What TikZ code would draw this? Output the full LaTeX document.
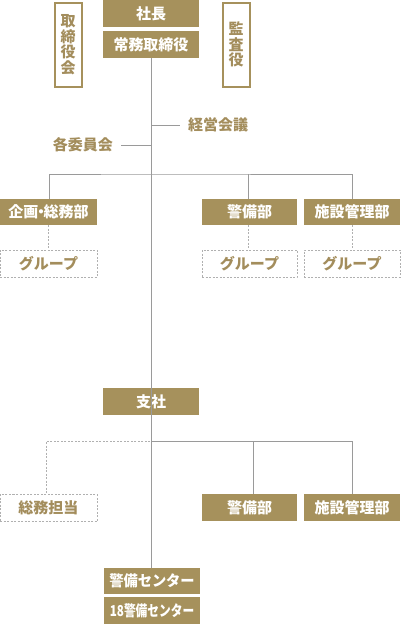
\documentclass[tikz,border=0pt]{standalone}
\usepackage{fontspec}
\setmainfont{Noto Sans CJK JP}
\usetikzlibrary{positioning}
\usepackage{graphicx}
\definecolor{gold}{HTML}{A6915C}
\definecolor{goldtext}{HTML}{A38D5C}
\definecolor{linegray}{HTML}{9A9A9A}
\definecolor{dashgray}{HTML}{B0B0B0}
\tikzset{
  txt/.style={font=\fontsize{15}{15.5}\selectfont\bfseries},
  solidbox/.style={txt, rectangle, fill=gold, text=white, inner sep=0pt, minimum width=96pt, minimum height=27pt},
  outlinebox/.style={txt, rectangle, draw=gold, line width=2pt, text=goldtext, inner sep=0pt, minimum width=27pt, minimum height=84pt, align=center},
  dashbox/.style={txt, rectangle, draw=dashgray, line width=0.9pt, dash pattern=on 2pt off 1.5pt, text=goldtext, inner sep=0pt, minimum width=97pt, minimum height=27pt},
  label/.style={txt, text=goldtext, inner sep=0pt},
  conn/.style={draw=linegray, line width=1pt},
  dconn/.style={draw=dashgray, line width=0.9pt, dash pattern=on 2pt off 1.5pt},
}
\begin{document}
\begin{tikzpicture}[x=1pt,y=-1pt]
\useasboundingbox (0,0) rectangle (402,625);
% top
\node[solidbox] (shacho) at (151,13.5) {社長};
\node[solidbox] (jomu) at (151,44.5) {常務取締役};
\node[outlinebox] (torishimari) at (68,44.5) {取\\締\\役\\会};
\node[outlinebox] (kansa) at (236,44.5) {監\\査\\役};
% meetings
\node[label, anchor=west] (keiei) at (188,125) {経営会議};
\node[label, anchor=east] (iin) at (113,145) {各委員会};
% departments
\node[solidbox, minimum width=97pt, minimum height=26pt] (kikaku) at (48.5,212) {企画\kern-5pt・\kern-5pt 総務部};
\node[solidbox, minimum width=95pt, minimum height=26pt] (keibi1) at (249.5,212) {警備部};
\node[solidbox, minimum height=26pt] (shisetsu1) at (352,212) {施設管理部};
\node[dashbox] (g1) at (48.5,263.5) {グループ};
\node[dashbox, minimum width=95pt] (g2) at (249.5,263.5) {グループ};
\node[dashbox, minimum width=96pt] (g3) at (352,263.5) {グループ};
% branch office
\node[solidbox] (shisha) at (151,401.5) {支社};
\node[dashbox] (somu) at (48.5,508) {総務担当};
\node[solidbox, minimum width=95pt] (keibi2) at (249.5,507.5) {警備部};
\node[solidbox] (shisetsu2) at (352,507.5) {施設管理部};
\node[solidbox, minimum height=26pt] (center1) at (152,581) {\scalebox{0.95}[1]{警備センター}};
\node[solidbox] (center2) at (152,610.5) {\scalebox{0.78}[1]{18警備センター}};
% coordinates
\coordinate (br1) at (151,174);
\coordinate (br2) at (151,441);
% trunk
\draw[conn] (jomu.south) -- (jomu.south |- center1.north);
\draw[conn] (jomu.south |- keiei.west) -- ([xshift=-8pt]keiei.west);
\draw[conn] ([xshift=8pt]iin.east) -- (jomu.south |- iin.east);
% department branch
\draw[conn] ([xshift=0.5pt]kikaku.north) |- (br1) -| (shisetsu1.north);
\draw[conn] ([xshift=-1.5pt]keibi1.north) -- ([xshift=-1.5pt]keibi1.north |- br1);
\draw[dconn] ([xshift=-0.5pt]kikaku.south) -- ([xshift=-0.5pt]g1.north);
\draw[dconn] ([xshift=-1.5pt]keibi1.south) -- ([xshift=-1.5pt]g2.north);
\draw[dconn] (shisetsu1.south) -- (g3.north);
% branch office branch
\draw[conn] (br2) -| (shisetsu2.north);
\draw[conn] ([xshift=3.5pt]keibi2.north) -- ([xshift=3.5pt]keibi2.north |- br2);
\draw[dconn] ([xshift=-1pt]br2) -| ([xshift=-2.5pt]somu.north);
\end{tikzpicture}
\end{document}
